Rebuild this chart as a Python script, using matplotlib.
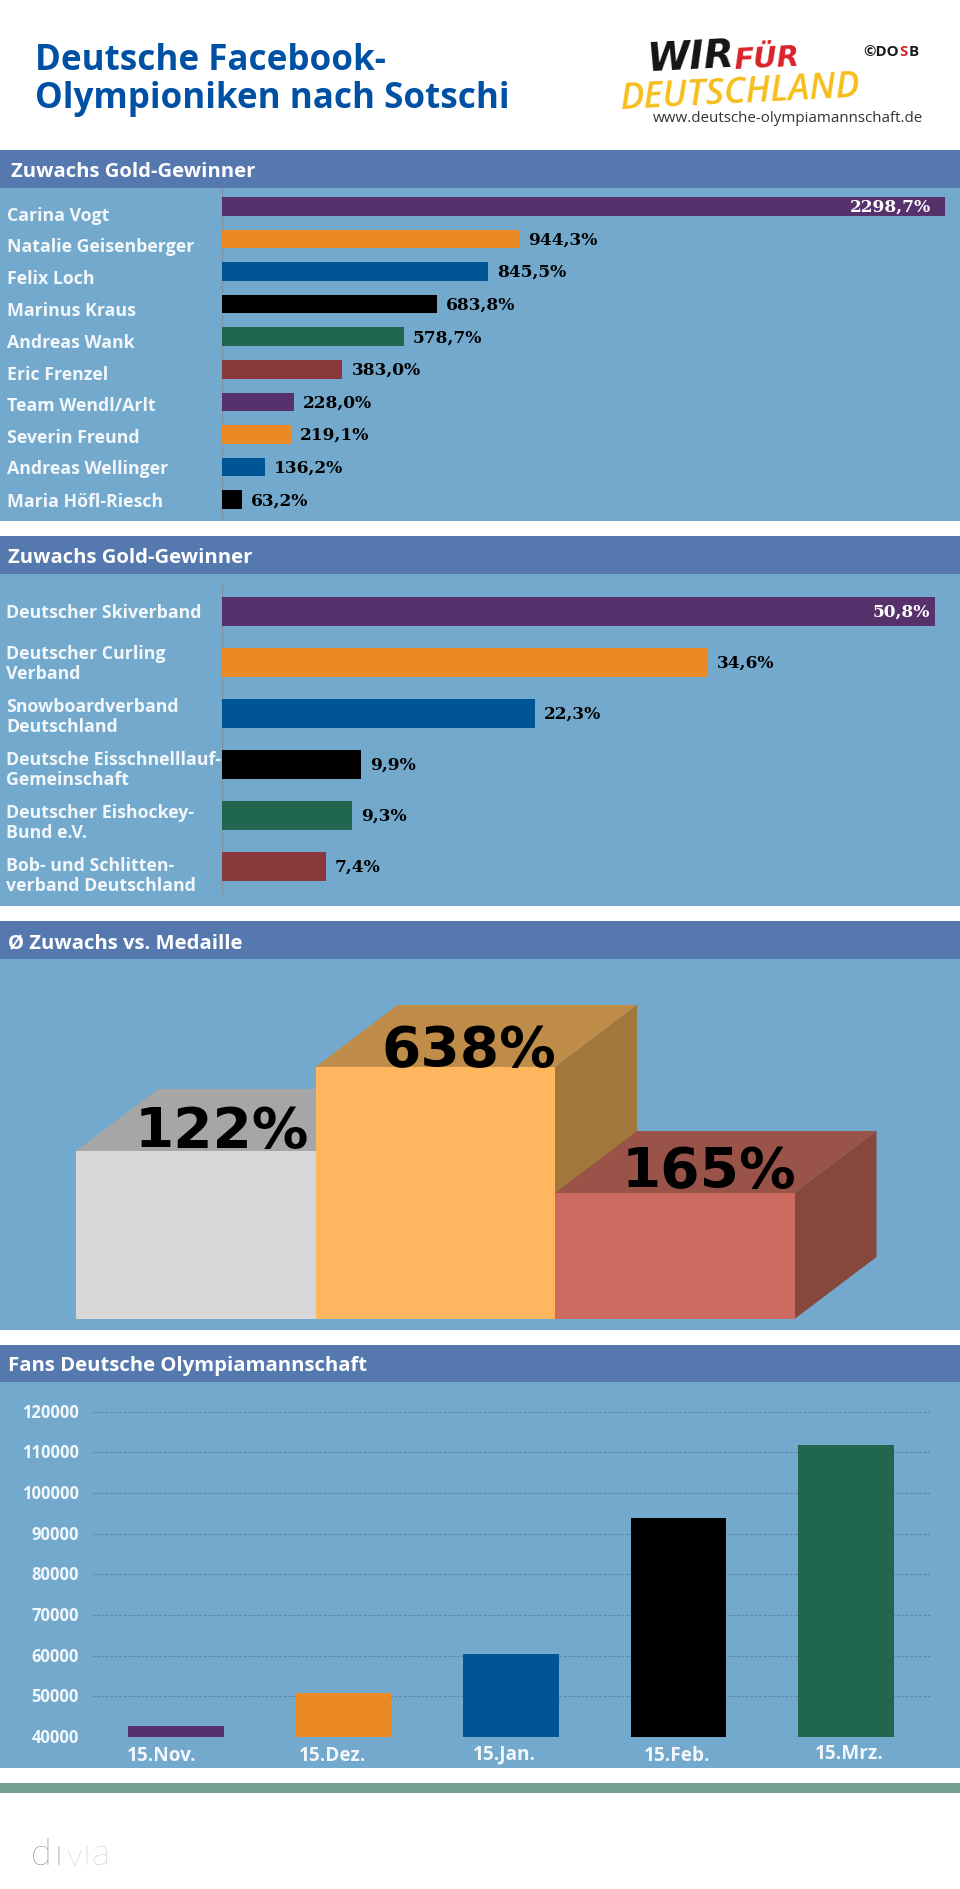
import matplotlib
matplotlib.use("Agg")
import matplotlib.pyplot as plt
from matplotlib.patches import Polygon, Rectangle
from matplotlib.transforms import ScaledTranslation

# data
gold_names = ["Carina Vogt", "Natalie Geisenberger", "Felix Loch", "Marinus Kraus", "Andreas Wank",
              "Eric Frenzel", "Team Wendl/Arlt", "Severin Freund", "Andreas Wellinger", "Maria Höfl-Riesch"]
gold_values = [2298.7, 944.3, 845.5, 683.8, 578.7, 383.0, 228.0, 219.1, 136.2, 63.2]

verband_names = ["Deutscher Skiverband", "Deutscher Curling\nVerband", "Snowboardverband\nDeutschland",
                 "Deutsche Eisschnelllauf-\nGemeinschaft", "Deutscher Eishockey-\nBund e.V.",
                 "Bob- und Schlitten-\nverband Deutschland"]
verband_values = [50.8, 34.6, 22.3, 9.9, 9.3, 7.4]

medal_labels = ["122%", "638%", "165%"]
podium_heights = [2.0, 3.0, 1.5]

fan_dates = ["15.Nov.", "15.Dez.", "15.Jan.", "15.Feb.", "15.Mrz."]
fan_values = [42700, 50700, 60400, 93800, 111800]
fan_ticks = [40000, 50000, 60000, 70000, 80000, 90000, 100000, 110000, 120000]

W, H = 960, 1890
PANEL = "#72A9CC"
HEADER = "#5578AF"
BAR_COLORS = ["#56316B", "#EB8A25", "#005596", "#000000", "#21664F", "#89383C"]
SANS = "Open Sans"
SERIF = "DejaVu Serif"
LABEL = "#F2F7FB"


def px(v):
    return v * 0.72


def sub_axes(x0, y0, x1, y1):
    a = fig.add_axes([x0 / W, 1 - y1 / H, (x1 - x0) / W, (y1 - y0) / H])
    a.patch.set_alpha(0)
    return a


def hbars(box, names, values, xmax, label_px, label_x, inside_pad, linespacing=1.2):
    a = sub_axes(*box)
    pos = list(range(len(values)))
    a.barh(pos, values, height=0.57, color=[BAR_COLORS[i % 6] for i in pos])
    a.set_xlim(0, xmax)
    a.set_ylim(len(values) - 0.5, -0.5)
    # the name labels do not sit exactly level with the bars in the original
    step = (box[3] - box[1]) / len(values)
    a.set_yticks([(y - box[1]) / step - 0.5 for y in label_px])
    a.set_yticklabels(names, fontsize=px(17.8), family=SANS, weight="bold", color=LABEL,
                      ha="left", linespacing=linespacing)
    a.tick_params(axis="y", length=0, pad=px(box[0] - label_x))
    a.xaxis.set_visible(False)
    for s in a.spines.values():
        s.set_visible(False)
    for i, v in enumerate(values):
        t = f"{v:.1f}".replace(".", ",") + "%"
        if i == 0:
            a.annotate(t, (v, i), xytext=(-px(inside_pad), 0), textcoords="offset points", ha="right",
                       va="center", fontsize=px(17), family=SERIF, weight="bold", color="white")
        else:
            a.annotate(t, (v, i), xytext=(px(9), 0), textcoords="offset points", ha="left", va="center",
                       fontsize=px(17), family=SERIF, weight="bold", color="black")
    return a


fig = plt.figure(figsize=(W / 100, H / 100), dpi=100, facecolor="white")

# background layer in pixel coordinates
bg = fig.add_axes([0, 0, 1, 1])
bg.set_xlim(0, W)
bg.set_ylim(H, 0)
bg.axis("off")

panels = [(151, 189, 522, 11, "Zuwachs Gold-Gewinner"),
          (537, 575, 907, 8, "Zuwachs Gold-Gewinner"),
          (922, 960, 1331, 8, "Ø Zuwachs vs. Medaille"),
          (1346, 1383, 1769, 8, "Fans Deutsche Olympiamannschaft")]
for top, mid, bottom, tx, title in panels:
    bg.add_patch(Rectangle((0, top), W, mid - top, color=HEADER, lw=0))
    bg.add_patch(Rectangle((0, mid), W, bottom - mid, color=PANEL, lw=0))
    bg.text(tx, (top + mid) / 2 + 2, title, color="white", fontsize=px(20.3), family=SANS, weight="bold",
            ha="left", va="center")
bg.add_patch(Rectangle((0, 1784), W, 10, color="#72A08F", lw=0))
bg.plot([222, 222], [189, 520], color="#7F95A6", lw=0.8)
bg.plot([222, 222], [585, 895], color="#7F95A6", lw=0.8)

# title
bg.text(35, 70, "Deutsche Facebook-", color="#0050A4", fontsize=px(35), family=SANS, weight="bold",
        ha="left", va="baseline")
bg.text(35, 108, "Olympioniken nach Sotschi", color="#0050A4", fontsize=px(35), family=SANS, weight="bold",
        ha="left", va="baseline")

# logo
bg.text(646, 58, "WIR", color="#141414", fontsize=px(39), family="DejaVu Sans", weight="bold", style="oblique",
        ha="left", va="center", rotation=3)
bg.text(733, 59, "FÜR", color="#D8232A", fontsize=px(29), family="DejaVu Sans", weight="bold", style="oblique",
        ha="left", va="center", rotation=3)
bg.text(619, 94, "DEUTSCHLAND", color="#F6BE1C", fontsize=px(36), family="Open Sans", style="italic",
        weight="semibold", ha="left", va="center", rotation=3)
bg.text(863, 52, "©DO", color="#1A1A1A", fontsize=px(15), family=SANS, weight="bold", ha="left", va="center")
bg.text(899, 52, "S", color="#D8232A", fontsize=px(15), family=SANS, weight="bold", ha="left", va="center")
bg.text(909, 52, "B", color="#1A1A1A", fontsize=px(15), family=SANS, weight="bold", ha="left", va="center")
bg.text(653, 119, "www.deutsche-olympiamannschaft.de", color="#333333", fontsize=px(15.1), family=SANS,
        ha="left", va="center")

# divia logo
for x, ch, col, size in [(31, "d", "#3F6152", 38), (54, "ı", "#3F6152", 38), (66, "v", "#B5B9B7", 32),
                         (82, "ı", "#B5B9B7", 38), (91, "a", "#B5B9B7", 38)]:
    bg.text(x, 1865, ch, color=col, fontsize=px(size), family="Lato", weight="light", ha="left", va="baseline")

# bar panels
gold_label_y = [214, 245, 277, 309, 341, 373, 404, 436, 467, 500]
verband_label_y = [611, 661, 714, 767, 820, 873]
hbars((222, 191, W, 517), gold_names, gold_values, (W - 222) / 0.3145, gold_label_y, 7, 14)
hbars((222, 587, W, 893), verband_names, verband_values, (W - 222) / 14.03, verband_label_y, 6, 5, linespacing=1.13)

# podium
pod = sub_axes(0, 960, W, 1331)
pod.set_xlim(0, W)
pod.set_ylim(1331, 960)
pod.axis("off")
UNIT_PX = 84
left, bar_w, base = 76, 239.5, 1320
dx, dy = 82, 62
front = ["#D8D8D8", "#FFB65F", "#CE6B60"]
topc = ["#A6A6A6", "#BF8C49", "#9A5349"]
sidec = ["#8E8E8E", "#A1773C", "#86473D"]
label_x = [222, 468.5, 709]
label_base = [1147, 1066, 1187]
for i in range(3):
    x = left + i * bar_w
    top = base - podium_heights[i] * UNIT_PX
    pod.add_patch(Polygon([(x, top), (x + dx, top - dy), (x + bar_w + dx, top - dy), (x + bar_w, top)],
                          color=topc[i], lw=0, zorder=2 + i))
    pod.add_patch(Polygon([(x + bar_w, top), (x + bar_w + dx, top - dy), (x + bar_w + dx, base - dy),
                           (x + bar_w, base)], color=sidec[i], lw=0, zorder=2 + i))
    pod.bar(x + bar_w / 2, base - top, bottom=top, width=bar_w, color=front[i], lw=0, zorder=2 + i)
for i, t in enumerate(medal_labels):
    pod.text(label_x[i], label_base[i], t, color="black", fontsize=px(56.5), family="DejaVu Sans", weight="bold",
             ha="center", va="baseline", zorder=6)

# fans chart
fan = sub_axes(92, 1412.6, 930, 1738)
xs = list(range(len(fan_values)))
fan.bar(xs, fan_values, width=0.57, color=BAR_COLORS[:5], zorder=3)
fan.set_xlim(-0.5, 4.5)
fan.set_ylim(40000, 120000)
fan.set_yticks(fan_ticks)
fan.set_yticklabels([str(t) for t in fan_ticks], fontsize=px(16.5), family=SANS, weight="bold", color=LABEL)
fan.tick_params(axis="y", length=0, pad=px(13))
up = ScaledTranslation(0, 2 / 100, fig.dpi_scale_trans)
for lab in fan.get_yticklabels():
    lab.set_transform(lab.get_transform() + up)
fan.grid(axis="y", color="#64869C", linestyle=(0, (2.5, 1.5)), linewidth=0.8, zorder=1)
fan.set_xticks([])
for s in fan.spines.values():
    s.set_visible(False)
for x, y, t in zip([162, 333, 504, 677, 849], [1761, 1761, 1759, 1761, 1759], fan_dates):
    bg.text(x, y, t, color=LABEL, fontsize=px(19), family=SANS, weight="bold", ha="center", va="baseline")

fig.savefig("out.png", dpi=100)
